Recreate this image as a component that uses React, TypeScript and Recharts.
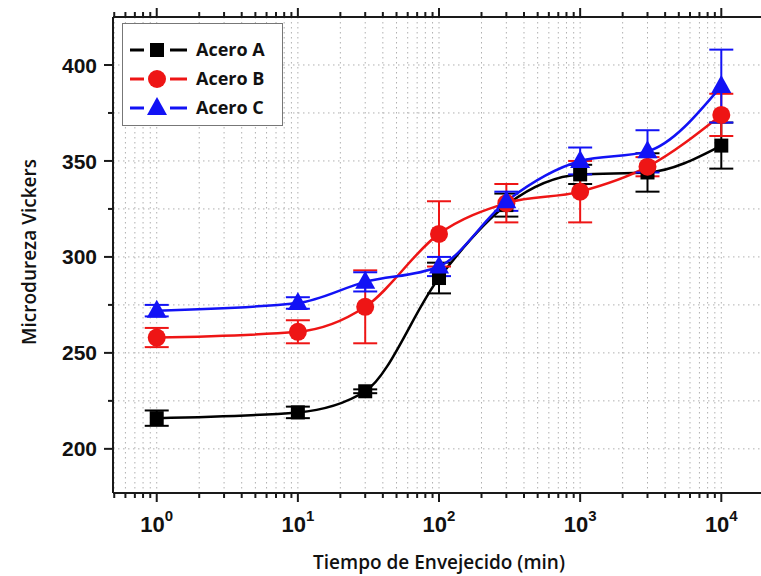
import React from 'react'
import {
  LineChart,
  Line,
  XAxis,
  YAxis,
  CartesianGrid,
  ErrorBar,
  Legend,
  Label,
} from 'recharts'

// aging time (min) and Vickers microhardness
const times = [1, 10, 30, 100, 300, 1000, 3000, 10000]
const aceroA = [216, 219, 230, 289, 327, 343, 344, 358]
const errA = [4, 3, 1, 8, 6, 5, 10, 12]
const aceroB = [258, 261, 274, 312, 328, 334, 347, 374]
const errB = [5, 6, 19, 17, 10, 16, 5, 11]
const aceroC = [272, 276, 287, 295, 329, 350, 355, 389]
const errC = [3, 3, 5, 5, 5, 7, 11, 19]

const decades = [1, 10, 100, 1000, 10000]
const minorMult = [2, 3, 4, 5, 6, 7, 8, 9]
const lowMinors = [0.5, 0.6, 0.7, 0.8, 0.9]
const highMinors = [20000]
const yTicks = [200, 225, 250, 275, 300, 325, 350, 375, 400]

const xTicks = [
  ...lowMinors,
  ...decades.flatMap((d) => (d < 10000 ? [d, ...minorMult.map((m) => d * m)] : [d])),
  ...highMinors,
]

const data = times.map((t, i) => ({
  t,
  a: aceroA[i],
  ea: errA[i],
  b: aceroB[i],
  eb: errB[i],
  c: aceroC[i],
  ec: errC[i],
}))

const BLACK = '#000000'
const RED = '#ee1515'
const BLUE = '#1212f5'
const AXIS = '#1a1a1a'
const TITLE_FONT = '"Open Sans", "Noto Sans", sans-serif'
const TICK_FONT = '"Liberation Sans", Arial, sans-serif'

const isDecade = (v: number) => decades.includes(v)

const BottomTick = ({ x, y, payload }: any) => {
  const v = payload.value
  const major = isDecade(v)
  return (
    <g>
      <line x1={x} x2={x} y1={y} y2={y + (major ? 9 : 5)} stroke={AXIS} strokeWidth={2} />
      {major && (
        <text
          x={x}
          y={y + 39}
          textAnchor="middle"
          fontFamily={TICK_FONT}
          fontWeight="bold"
          fontSize={22}
          fill="#111"
        >
          10
          <tspan dy={-11} fontSize={15}>
            {Math.round(Math.log10(v))}
          </tspan>
        </text>
      )}
    </g>
  )
}

const TopTick = ({ x, y, payload }: any) => {
  const major = isDecade(payload.value)
  return <line x1={x} x2={x} y1={y} y2={y - (major ? 9 : 5)} stroke={AXIS} strokeWidth={2} />
}

const LeftTick = ({ x, y, payload }: any) => {
  const v = payload.value
  const major = v % 50 === 0
  return (
    <g>
      <line x1={x - (major ? 9 : 5)} x2={x} y1={y} y2={y} stroke={AXIS} strokeWidth={2} />
      {major && (
        <text
          x={x - 16}
          y={y}
          dy="0.36em"
          textAnchor="end"
          fontFamily={TICK_FONT}
          fontWeight="bold"
          fontSize={21}
          fill="#111"
        >
          {v}
        </text>
      )}
    </g>
  )
}

const Square = ({ cx, cy }: any) =>
  cx == null ? null : <rect x={cx - 7} y={cy - 7} width={14} height={14} fill={BLACK} />

const Circle = ({ cx, cy }: any) =>
  cx == null ? null : <circle cx={cx} cy={cy} r={9} fill={RED} />

const Triangle = ({ cx, cy }: any) =>
  cx == null ? null : (
    <polygon points={`${cx},${cy - 11} ${cx - 10},${cy + 7} ${cx + 10},${cy + 7}`} fill={BLUE} />
  )

const SERIES = [
  { name: 'Acero A', color: BLACK, Dot: Square },
  { name: 'Acero B', color: RED, Dot: Circle },
  { name: 'Acero C', color: BLUE, Dot: Triangle },
]

const LegendBox = () => (
  <div
    style={{
      width: 161,
      height: 103,
      border: '1.5px solid #777',
      background: '#fff',
      boxSizing: 'border-box',
    }}
  >
    <svg width={158} height={100}>
      {SERIES.map((s, i) => {
        const cy = 26 + i * 29
        return (
          <g key={s.name}>
            <line x1={7} x2={21} y1={cy} y2={cy} stroke={s.color} strokeWidth={3} />
            <line x1={47} x2={64} y1={cy} y2={cy} stroke={s.color} strokeWidth={3} />
            <s.Dot cx={34} cy={cy} />
            <text
              x={73}
              y={cy}
              dy="0.35em"
              fontFamily={TITLE_FONT}
              fontWeight={700}
              fontSize={18}
              fill="#111"
            >
              {s.name}
            </text>
          </g>
        )
      })}
    </svg>
  </div>
)

export default function App() {
  return (
    <div
      style={{
        position: 'absolute',
        left: 0,
        top: 0,
        width: 761,
        height: 576,
        overflow: 'hidden',
        background: '#fff',
      }}
    >
      <LineChart
        width={770}
        height={576}
        data={data}
        margin={{ top: 0, right: 5, bottom: 0, left: 0 }}
      >
        <CartesianGrid stroke="#b0b0b0" strokeDasharray="1.5 3.5" ticks={xTicks} />
        <XAxis
          dataKey="t"
          type="number"
          scale="log"
          domain={[0.49, 20400]}
          allowDataOverflow
          ticks={xTicks}
          interval={0}
          height={83}
          tickSize={0}
          tickMargin={0}
          tickLine={false}
          tick={<BottomTick />}
          axisLine={{ stroke: AXIS, strokeWidth: 2 }}
        >
          <Label
            value="Tiempo de Envejecido (min)"
            position="insideBottom"
            offset={7}
            fontFamily={TITLE_FONT}
            fontWeight={600}
            fontSize={19}
            fill="#111"
          />
        </XAxis>
        <XAxis
          xAxisId="top"
          orientation="top"
          dataKey="t"
          type="number"
          scale="log"
          domain={[0.49, 20400]}
          allowDataOverflow
          ticks={xTicks}
          interval={0}
          height={17}
          tickSize={0}
          tickMargin={0}
          tickLine={false}
          tick={<TopTick />}
          axisLine={{ stroke: AXIS, strokeWidth: 2 }}
        />
        <YAxis
          type="number"
          domain={[177, 425]}
          allowDataOverflow
          ticks={yTicks}
          interval={0}
          width={113}
          tickSize={0}
          tickMargin={0}
          tickLine={false}
          tick={<LeftTick />}
          axisLine={{ stroke: AXIS, strokeWidth: 2 }}
        >
          <Label
            content={({ viewBox }: any) => {
              const cx = viewBox.x + 29
              const cy = viewBox.y + viewBox.height / 2 - 3
              return (
                <text
                  x={cx}
                  y={cy}
                  transform={`rotate(-90 ${cx} ${cy})`}
                  textAnchor="middle"
                  dominantBaseline="central"
                  fontFamily={TITLE_FONT}
                  fontWeight={600}
                  fontSize={19}
                  fill="#111"
                >
                  Microdureza Vickers
                </text>
              )
            }}
          />
        </YAxis>
        <Legend
          layout="vertical"
          align="center"
          verticalAlign="middle"
          wrapperStyle={{ left: 122, top: 23, width: 161, height: 103 }}
          content={() => <LegendBox />}
        />
        <Line
          type="monotone"
          dataKey="a"
          name="Acero A"
          stroke={BLACK}
          strokeWidth={2.5}
          dot={<Square />}
          activeDot={false}
          isAnimationActive={false}
        >
          <ErrorBar dataKey="ea" width={12} strokeWidth={2} stroke={BLACK} direction="y" isAnimationActive={false} />
        </Line>
        <Line
          type="monotone"
          dataKey="b"
          name="Acero B"
          stroke={RED}
          strokeWidth={2.5}
          dot={<Circle />}
          activeDot={false}
          isAnimationActive={false}
        >
          <ErrorBar dataKey="eb" width={12} strokeWidth={2} stroke={RED} direction="y" isAnimationActive={false} />
        </Line>
        <Line
          type="monotone"
          dataKey="c"
          name="Acero C"
          stroke={BLUE}
          strokeWidth={2.5}
          dot={<Triangle />}
          activeDot={false}
          isAnimationActive={false}
        >
          <ErrorBar dataKey="ec" width={12} strokeWidth={2} stroke={BLUE} direction="y" isAnimationActive={false} />
        </Line>
      </LineChart>
    </div>
  )
}
